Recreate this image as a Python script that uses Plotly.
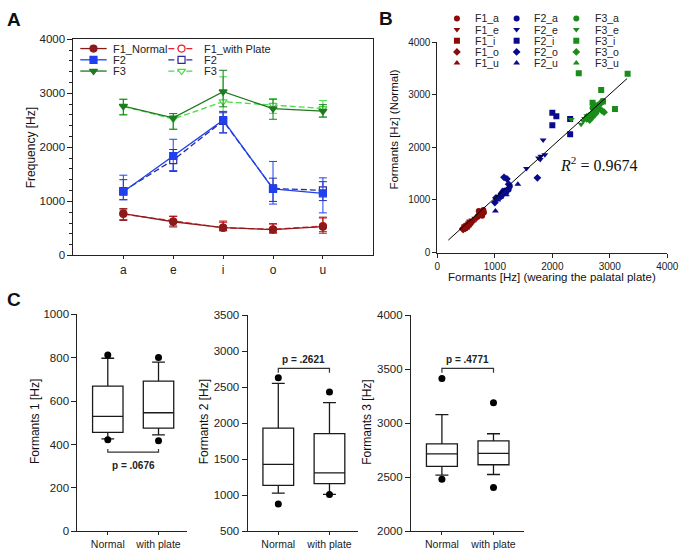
import plotly.graph_objects as go

W, H = 692, 553
FONT = "Liberation Sans, Arial, sans-serif"

# ---------------- Panel A data ----------------
vowels = ["a", "e", "i", "o", "u"]
f1_normal = [776, 624, 515, 479, 533]
f1_normal_up = [91, 103, 121, 109, 176]
f1_normal_dn = [128, 97, 60, 67, 121]
f1_plate = [765, 632, 512, 485, 542]
f1_plate_up = [80, 90, 100, 95, 150]
f1_plate_dn = [100, 85, 50, 60, 100]
f2_normal = [1180, 1840, 2503, 1232, 1150]
f2_normal_up = [305, 310, 163, 508, 286]
f2_normal_dn = [150, 270, 237, 281, 362]
f2_plate = [1192, 1765, 2490, 1240, 1205]
f2_plate_up = [210, 195, 150, 190, 160]
f2_plate_dn = [160, 210, 220, 240, 190]
f3_normal = [2765, 2545, 3030, 2715, 2670]
f3_normal_up = [125, 80, 396, 175, 120]
f3_normal_dn = [165, 210, 280, 195, 110]
f3_plate = [2760, 2525, 2845, 2780, 2720]
f3_plate_up = [130, 100, 460, 120, 145]
f3_plate_dn = [150, 190, 185, 150, 160]

# ---------------- Panel B data (x: with plate, y: normal) ----------------
f1_a_x = [720, 760, 800, 780, 700, 740, 810]
f1_a_y = [790, 760, 810, 700, 680, 720, 760]
f1_e_x = [560, 600, 650, 620, 540, 680, 590]
f1_e_y = [600, 620, 650, 580, 560, 640, 540]
f1_i_x = [470, 500, 520, 540, 480, 510, 560]
f1_i_y = [480, 500, 510, 530, 470, 490, 560]
f1_o_x = [440, 460, 500, 480, 520, 450, 490]
f1_o_y = [450, 470, 490, 480, 500, 440, 460]
f1_u_x = [460, 500, 560, 620, 700, 480, 520]
f1_u_y = [470, 510, 580, 600, 720, 500, 540]
f2_a_x = [1100, 1150, 1200, 1240, 1180, 1260, 1120]
f2_a_y = [1100, 1130, 1150, 1200, 1180, 1260, 1090]
f2_e_x = [1550, 1760, 1800, 1840, 1870, 1790]
f2_e_y = [1600, 1800, 1830, 2140, 1860, 1770]
f2_i_x = [2000, 2070, 2000, 2310, 2310]
f2_i_y = [2660, 2590, 2420, 2540, 2250]
f2_o_x = [1160, 1210, 1740, 1000, 1020, 1100, 1240]
f2_o_y = [1430, 1400, 1420, 950, 1040, 1060, 1300]
f2_u_x = [1010, 1400, 1100, 1150, 1200, 1050, 1130]
f2_u_y = [790, 1300, 1050, 1120, 1100, 1000, 1180]
f3_a_x = [2700, 2750, 2800, 2850, 2780, 2820, 2880]
f3_a_y = [2750, 2800, 2760, 2850, 2700, 2820, 2880]
f3_e_x = [2330, 2500, 2560, 2600, 2540, 2620]
f3_e_y = [2530, 2440, 2550, 2600, 2500, 2570]
f3_i_x = [2460, 3310, 2850, 3090, 2700, 2880]
f3_i_y = [3410, 3400, 3090, 2730, 2850, 2870]
f3_o_x = [2650, 2700, 2900, 2750, 2860, 2600]
f3_o_y = [2520, 2580, 2670, 2640, 2700, 2540]
f3_u_x = [2600, 2680, 2720, 2640, 2760, 2700]
f3_u_y = [2600, 2650, 2700, 2620, 2730, 2680]
fit_x = [190, 3300]
fit_y = [236, 3308]
r_squared = "0.9674"

# ---------------- Panel C data ----------------
groups = ["Normal", "with plate"]
c1_q1 = [456, 475]
c1_med = [529, 546]
c1_q3 = [669, 692]
c1_lo = [426, 444]
c1_hi = [797, 779]
c1_out_g = ["Normal", "Normal", "with plate", "with plate"]
c1_out_y = [812, 422, 800, 417]
c2_q1 = [1139, 1162]
c2_med = [1429, 1311]
c2_q3 = [1932, 1855]
c2_lo = [1030, 1012]
c2_hi = [2553, 2285]
c2_out_g = ["Normal", "Normal", "with plate", "with plate"]
c2_out_y = [2630, 881, 2435, 1012]
c3_q1 = [2601, 2616]
c3_med = [2716, 2722]
c3_q3 = [2810, 2837]
c3_lo = [2520, 2526]
c3_hi = [3079, 2903]
c3_out_g = ["Normal", "Normal", "with plate", "with plate"]
c3_out_y = [3414, 2483, 3190, 2405]
p_texts = ["p = .0676", "p = .2621", "p = .4771"]
bracket_y = [365, 2761, 3508]

# ---------------- helpers ----------------
def px_x(p):
    return p / W

def px_y(p):
    return 1 - p / H

fig = go.Figure()

# colours
C_F1N, C_F1P = "#8B1A1A", "#E8202A"
C_F2N, C_F2P = "#2040F0", "#2A2A9C"
C_F3N, C_F3P = "#1E7A1E", "#44DD44"
B_F1, B_F2, B_F3 = "#8B0A0A", "#0A0A8C", "#1A8C1A"
DASH = "6px,3px"

def mk(symbol, color, hollow, size=7):
    return dict(symbol=symbol, size=size, color="white" if hollow else color,
                line=dict(color=color, width=1.2))

# ---------------- Panel A traces ----------------
def a_trace(y, up, dn, color, symbol, hollow, dash, name):
    return go.Scatter(
        x=vowels, y=y, mode="lines+markers", name=name,
        line=dict(color=color, width=1.3, dash=dash),
        marker=mk(symbol, color, hollow),
        error_y=dict(type="data", array=up, arrayminus=dn, color=color, thickness=1, width=4),
        xaxis="x", yaxis="y", showlegend=False)

fig.add_trace(a_trace(f3_plate, f3_plate_up, f3_plate_dn, C_F3P, "triangle-down", True, DASH, "F3"))
fig.add_trace(a_trace(f3_normal, f3_normal_up, f3_normal_dn, C_F3N, "triangle-down", False, "solid", "F3"))
fig.add_trace(a_trace(f2_plate, f2_plate_up, f2_plate_dn, C_F2P, "square", True, DASH, "F2"))
fig.add_trace(a_trace(f2_normal, f2_normal_up, f2_normal_dn, C_F2N, "square", False, "solid", "F2"))
fig.add_trace(a_trace(f1_plate, f1_plate_up, f1_plate_dn, C_F1P, "circle", True, DASH, "F1_with Plate"))
fig.add_trace(a_trace(f1_normal, f1_normal_up, f1_normal_dn, C_F1N, "circle", False, "solid", "F1_Normal"))

# ---------------- Panel B traces ----------------
b_series = [
    ("F1_a", f1_a_x, f1_a_y, B_F1, "circle"),
    ("F1_e", f1_e_x, f1_e_y, B_F1, "triangle-down"),
    ("F1_i", f1_i_x, f1_i_y, B_F1, "square"),
    ("F1_o", f1_o_x, f1_o_y, B_F1, "diamond"),
    ("F1_u", f1_u_x, f1_u_y, B_F1, "triangle-up"),
    ("F2_a", f2_a_x, f2_a_y, B_F2, "circle"),
    ("F2_e", f2_e_x, f2_e_y, B_F2, "triangle-down"),
    ("F2_i", f2_i_x, f2_i_y, B_F2, "square"),
    ("F2_o", f2_o_x, f2_o_y, B_F2, "diamond"),
    ("F2_u", f2_u_x, f2_u_y, B_F2, "triangle-up"),
    ("F3_a", f3_a_x, f3_a_y, B_F3, "circle"),
    ("F3_e", f3_e_x, f3_e_y, B_F3, "triangle-down"),
    ("F3_i", f3_i_x, f3_i_y, B_F3, "square"),
    ("F3_o", f3_o_x, f3_o_y, B_F3, "diamond"),
    ("F3_u", f3_u_x, f3_u_y, B_F3, "triangle-up"),
]
for name, xs, ys, col, sym in b_series:
    fig.add_trace(go.Scatter(x=xs, y=ys, mode="markers", name=name,
                             marker=dict(symbol=sym, size=6, color=col, line=dict(width=0)),
                             xaxis="x2", yaxis="y2", showlegend=False))
fig.add_trace(go.Scatter(x=fit_x, y=fit_y, mode="lines", line=dict(color="black", width=1),
                         xaxis="x2", yaxis="y2", showlegend=False))

# ---------------- Panel C traces ----------------
c_sets = [
    (c1_q1, c1_med, c1_q3, c1_lo, c1_hi, c1_out_g, c1_out_y, "x3", "y3"),
    (c2_q1, c2_med, c2_q3, c2_lo, c2_hi, c2_out_g, c2_out_y, "x4", "y4"),
    (c3_q1, c3_med, c3_q3, c3_lo, c3_hi, c3_out_g, c3_out_y, "x5", "y5"),
]
bracket_dir = [1, -1, -1]
bracket_tick = [14, 60, 40]
p_offset = [-60, 125, 85]
for k, (q1, med, q3, lo, hi, og, oy, xa, ya) in enumerate(c_sets):
    fig.add_trace(go.Box(x=groups, q1=q1, median=med, q3=q3, lowerfence=lo, upperfence=hi,
                         boxpoints=False, width=0.6, whiskerwidth=0.42,
                         line=dict(color="#1a1a1a", width=1.3), fillcolor="white",
                         xaxis=xa, yaxis=ya, showlegend=False))
    fig.add_trace(go.Scatter(x=og, y=oy, mode="markers",
                             marker=dict(symbol="circle", size=7, color="black"),
                             xaxis=xa, yaxis=ya, showlegend=False))
    by = bracket_y[k]
    tip = by + bracket_dir[k] * bracket_tick[k]
    fig.add_trace(go.Scatter(x=[groups[0], groups[0], groups[1], groups[1]],
                             y=[tip, by, by, tip], mode="lines",
                             line=dict(color="#333", width=1.2),
                             xaxis=xa, yaxis=ya, showlegend=False))
    fig.add_annotation(x=0.5, y=by + p_offset[k], xref=xa, yref=ya, text="<b>%s</b>" % p_texts[k],
                       showarrow=False, font=dict(size=10, color="#222", family=FONT),
                       xanchor="center", yanchor="middle")

# ---------------- Manual legends (overlay pixel axis) ----------------
def leg_line(x0, x1, y, color, dash, symbol, hollow):
    fig.add_trace(go.Scatter(x=[x0, x1], y=[y, y], mode="lines",
                             line=dict(color=color, width=1.3, dash=dash),
                             xaxis="x7", yaxis="y7", showlegend=False, hoverinfo="skip"))
    fig.add_trace(go.Scatter(x=[(x0 + x1) / 2], y=[y], mode="markers",
                             marker=mk(symbol, color, hollow),
                             xaxis="x7", yaxis="y7", showlegend=False, hoverinfo="skip"))

a_leg = [
    (79, 106, 43.5, C_F1N, "solid", "circle", False, 110, "F1_Normal"),
    (169, 196, 43.5, C_F1P, DASH, "circle", True, 203, "F1_with Plate"),
    (79, 106, 55, C_F2N, "solid", "square", False, 110, "F2"),
    (169, 196, 55, C_F2P, DASH, "square", True, 203, "F2"),
    (79, 106, 66.5, C_F3N, "solid", "triangle-down", False, 110, "F3"),
    (169, 196, 66.5, C_F3P, DASH, "triangle-down", True, 203, "F3"),
]
for x0, x1, y, col, dash, sym, hollow, tx, txt in a_leg:
    leg_line(x0, x1, y, col, dash, sym, hollow)
    fig.add_annotation(x=px_x(tx), y=px_y(y), xref="paper", yref="paper", text=txt,
                       showarrow=False, xanchor="left", yanchor="middle",
                       font=dict(size=11, color="#222", family=FONT))

b_cols_mx = [464, 525, 586]
b_cols_tx = [480, 541, 603]
b_rows_y = [12.7, 24.1, 35.5, 46.9, 58.3]
for idx, (name, xs, ys, col, sym) in enumerate(b_series):
    c = idx // 5
    r = idx % 5
    fig.add_trace(go.Scatter(x=[b_cols_mx[c]], y=[b_rows_y[r]], mode="markers",
                             marker=dict(symbol=sym, size=6, color=col),
                             xaxis="x7", yaxis="y7", showlegend=False, hoverinfo="skip"))
    fig.add_annotation(x=px_x(b_cols_tx[c]), y=px_y(b_rows_y[r]), xref="paper", yref="paper",
                       text=name, showarrow=False, xanchor="left", yanchor="middle",
                       font=dict(size=10.5, color="#222", family=FONT))

# ---------------- Axes ----------------
tickfont = dict(size=11.5, color="#222", family=FONT)
common = dict(showline=True, linecolor="#222", linewidth=1, showgrid=False, zeroline=False,
              ticks="outside", tickcolor="#222", tickfont=tickfont)

layout = dict(
    width=W, height=H, autosize=False,
    margin=dict(l=0, r=0, t=0, b=0),
    paper_bgcolor="white", plot_bgcolor="rgba(0,0,0,0)",
    font=dict(family=FONT, color="#222"),
    showlegend=False,
    # Panel A
    xaxis=dict(common, domain=[px_x(72), px_x(378)], type="category", range=[-1, 5],
               mirror=True, ticklen=3, tickfont=dict(size=12, color="#222", family=FONT),
               anchor="y"),
    yaxis=dict(common, domain=[px_y(255), px_y(34)], range=[0, 4000], tickvals=[0, 1000, 2000, 3000, 4000],
               mirror=True, ticklen=5, anchor="x",
               minor=dict(dtick=200, ticks="outside", ticklen=3, tickcolor="#222")),
    # Panel B
    xaxis2=dict(common, domain=[px_x(444), px_x(679)], range=[0, 4000], dtick=1000, ticklen=4,
                tickfont=dict(size=10, color="#222", family=FONT), anchor="y2"),
    yaxis2=dict(common, domain=[px_y(252), px_y(37)], range=[0, 4000], dtick=1000, ticklen=4,
                tickfont=dict(size=10, color="#222", family=FONT), anchor="x2"),
    # Panel C
    xaxis3=dict(common, domain=[px_x(76), px_x(188)], type="category", range=[-0.6, 1.56], ticklen=3,
                tickfont=dict(size=10.5, color="#222", family=FONT), anchor="y3"),
    yaxis3=dict(common, domain=[px_y(537), px_y(315)], range=[0, 1000], dtick=200, ticklen=5, anchor="x3"),
    xaxis4=dict(common, domain=[px_x(250), px_x(363)], type="category", range=[-0.6, 1.56], ticklen=3,
                tickfont=dict(size=10.5, color="#222", family=FONT), anchor="y4"),
    yaxis4=dict(common, domain=[px_y(537), px_y(316)], range=[500, 3500], dtick=500, ticklen=5, anchor="x4"),
    xaxis5=dict(common, domain=[px_x(417), px_x(533)], type="category", range=[-0.6, 1.6], ticklen=3,
                tickfont=dict(size=10.5, color="#222", family=FONT), anchor="y5"),
    yaxis5=dict(common, domain=[px_y(537), px_y(316)], range=[2000, 4000], dtick=500, ticklen=5, anchor="x5"),
    # overlay pixel axes for legends
    xaxis7=dict(domain=[0, 1], range=[0, W], visible=False, fixedrange=True, anchor="y7"),
    yaxis7=dict(domain=[0, 1], range=[H, 0], visible=False, fixedrange=True, anchor="x7"),
)
fig.update_layout(**layout)

# axis titles & labels as annotations
def ann(x, y, text, size, angle=0, bold=False, family=FONT):
    fig.add_annotation(x=px_x(x), y=px_y(y), xref="paper", yref="paper",
                       text=("<b>%s</b>" % text) if bold else text, showarrow=False,
                       textangle=angle, xanchor="center", yanchor="middle",
                       font=dict(size=size, color="#111", family=family))

ann(28, 145, "Frequency [Hz]", 12, -90)
ann(400, 126, "Formants [Hz] (Normal)", 11.5, -90)
ann(561, 277, "Formants [Hz] (wearing the palatal plate)", 11.5)
ann(32, 425, "Formants 1 [Hz]", 12, -90)
ann(205, 425, "Formants 2 [Hz]", 12, -90)
ann(372, 425, "Formants 3 [Hz]", 12, -90)
ann(609, 162, "<i>R</i><sup>2</sup> = " + r_squared, 16, family="Liberation Serif, DejaVu Serif, serif")
ann(11, 14, "A", 19, bold=True, family="Liberation Sans, Arial")
ann(391, 13, "B", 19, bold=True, family="Liberation Sans, Arial")
ann(11, 300, "C", 19, bold=True, family="Liberation Sans, Arial")

fig.write_html("out.html")
